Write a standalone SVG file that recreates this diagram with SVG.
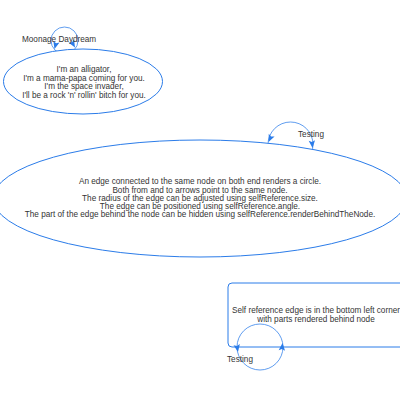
<svg xmlns="http://www.w3.org/2000/svg" width="400" height="400" viewBox="0 0 400 400">
  <style>
    .node { fill: #ffffff; stroke: #2b7ce9; stroke-width: 1; }
    .edge { fill: none; stroke: #2b7ce9; stroke-width: 1; stroke-opacity: 0.75; }
    .arrow { fill: #2b7ce9; }
    .label { font-family: "Liberation Sans", Arial, sans-serif; font-size: 8.2px; fill: #343434; text-anchor: middle; }
    .elabel { font-family: "Liberation Sans", Arial, sans-serif; font-size: 8.2px; fill: #343434; }
  </style>
  <defs>
    <!-- arrowhead pointing along +x, tip at origin -->
    <path id="head" d="M0,0 L-7.5,-3.2 L-6,0 L-7.5,3.2 Z"/>
  </defs>

  <!-- self-reference loops (drawn first so nodes cover the inner parts) -->
  <g id="edges">
    <circle class="edge" cx="64.5" cy="40.5" r="13.5"/>
    <circle class="edge" cx="290.5" cy="144.5" r="22.5"/>
    <circle class="edge" cx="260" cy="347" r="23"/>
  </g>

  <g id="node1">
    <ellipse class="node" cx="83" cy="81.5" rx="79.5" ry="32.5"/>
    <text class="label" x="84" y="72">I'm an alligator,</text>
    <text class="label" x="84" y="80.5">I'm a mama-papa coming for you.</text>
    <text class="label" x="84" y="89">I'm the space invader,</text>
    <text class="label" x="84" y="97.5">I'll be a rock 'n' rollin' bitch for you.</text>
  </g>

  <g id="node2">
    <ellipse class="node" cx="200" cy="198.5" rx="207" ry="58.5"/>
    <text class="label" x="200" y="184.2">An edge connected to the same node on both end renders a circle.</text>
    <text class="label" x="200" y="192.5">Both from and to arrows point to the same node.</text>
    <text class="label" x="200" y="200.8">The radius of the edge can be adjusted using selfReference.size.</text>
    <text class="label" x="200" y="209.1">The edge can be positioned using selfReference.angle.</text>
    <text class="label" x="200" y="217.4">The part of the edge behind the node can be hidden using selfReference.renderBehindTheNode.</text>
  </g>

  <g id="node3">
    <rect class="node" x="228" y="283" width="177" height="64" rx="4" ry="4" fill-opacity="0"/>
    <text class="label" x="316" y="313">Self reference edge is in the bottom left corner</text>
    <text class="label" x="316" y="322">with parts rendered behind node</text>
  </g>

  <!-- arrowheads and edge labels -->
  <g id="edge-decor">
    <use href="#head" class="arrow" transform="translate(54.5,49) rotate(105)"/>
    <use href="#head" class="arrow" transform="translate(75,47.5) rotate(60)"/>
    <text class="elabel" x="22" y="42">Moonage Daydream</text>

    <use href="#head" class="arrow" transform="translate(268.5,142) rotate(115)"/>
    <use href="#head" class="arrow" transform="translate(312.5,148) rotate(85)"/>
    <text class="elabel" x="298" y="137">Testing</text>

    <use href="#head" class="arrow" transform="translate(238,352) rotate(80)"/>
    <use href="#head" class="arrow" transform="translate(282.5,343) rotate(-85)"/>
    <text class="elabel" x="227" y="362">Testing</text>
  </g>
</svg>
